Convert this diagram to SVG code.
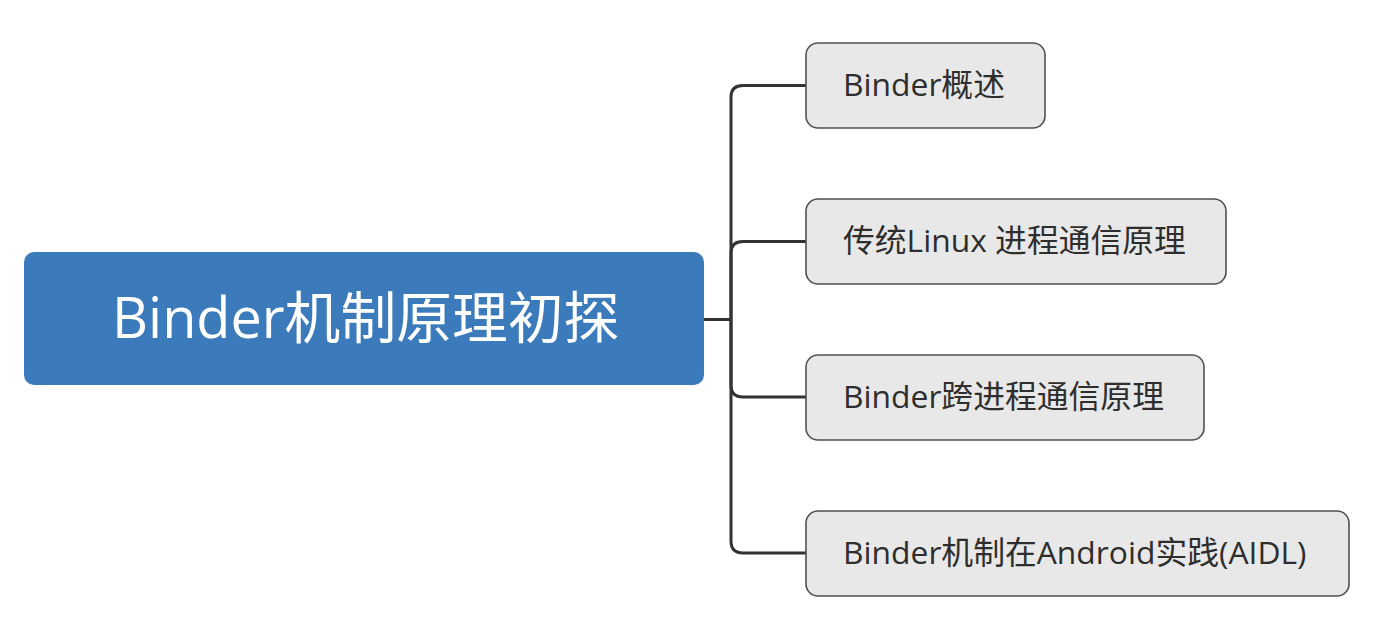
<svg xmlns="http://www.w3.org/2000/svg" width="1392" height="632" viewBox="0 0 1392 632">
<style>
.root rect{fill:#3b7bbb;}
.root text{fill:#ffffff;font-family:"Open Sans","Noto Sans CJK SC",sans-serif;font-size:55.8px;}
.child rect{fill:#e8e8e8;stroke:#505050;stroke-width:1.6;}
.child text{fill:#2e2e2e;font-family:"Open Sans","Noto Sans CJK SC",sans-serif;font-size:31.8px;}
.conn path{fill:none;stroke:#333333;stroke-width:3;}
</style>
<rect width="1392" height="632" fill="#ffffff"/>
<g class="conn" id="connectors">
<path d="M704 319.5 H731"/>
<path d="M731 319.5 V97 Q731 85.5 743 85.5 H806"/>
<path d="M731 319.5 V253 Q731 241.5 743 241.5 H806"/>
<path d="M731 319.5 V385 Q731 397 743 397 H806"/>
<path d="M731 319.5 V541 Q731 553 743 553 H806"/>
</g>
<g class="root" id="root">
<rect x="24" y="252" width="680" height="133" rx="10"/>
<text x="112" y="338">Binder机制原理初探</text>
</g>
<g class="child" id="n1">
<rect x="806" y="43" width="239" height="85" rx="12"/>
<text x="843" y="96">Binder概述</text>
</g>
<g class="child" id="n2">
<rect x="806" y="199" width="420" height="85" rx="12"/>
<text x="843" y="252">传统Linux 进程通信原理</text>
</g>
<g class="child" id="n3">
<rect x="806" y="355" width="398" height="85" rx="12"/>
<text x="843" y="408">Binder跨进程通信原理</text>
</g>
<g class="child" id="n4">
<rect x="806" y="511" width="543" height="85" rx="12"/>
<text x="843" y="564">Binder机制在Android实践(AIDL)</text>
</g>
</svg>
